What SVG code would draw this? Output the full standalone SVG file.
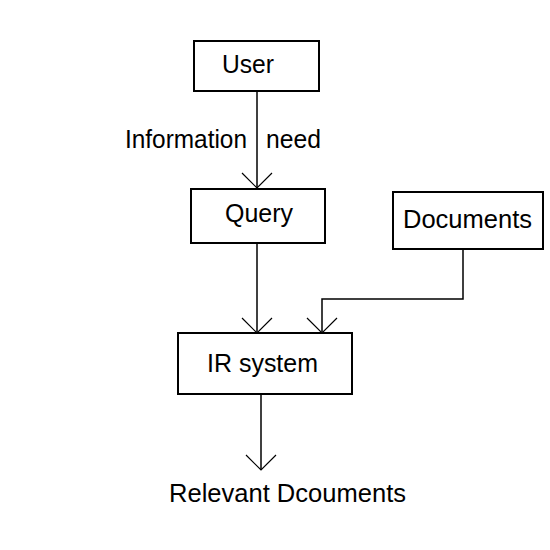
<svg xmlns="http://www.w3.org/2000/svg" width="550" height="550" viewBox="0 0 550 550">
<defs>
<style>
.box{fill:#fff;stroke:#000;stroke-width:2}
.lbl{font-family:"Liberation Sans",Arial,sans-serif;font-size:25px;fill:#000}
.con{fill:none;stroke:#000;stroke-width:1.5}
</style>
<marker id="v" viewBox="-17 -17 20 34" markerWidth="20" markerHeight="34" refX="0" refY="0" markerUnits="userSpaceOnUse" orient="auto">
<path d="M-15,-15 L0,0 L-15,15" fill="none" stroke="#000" stroke-width="1.2"/>
</marker>
</defs>
<rect width="550" height="550" fill="#fff"/>
<g id="connectors">
<path class="con" d="M257,91 V188" marker-end="url(#v)"/>
<path class="con" d="M257,243 V333" marker-end="url(#v)"/>
<path class="con" d="M463,249 V299 H322 V333" marker-end="url(#v)"/>
<path class="con" d="M261,394 V470" marker-end="url(#v)"/>
<text class="lbl"><tspan x="125" y="148" textLength="122" lengthAdjust="spacingAndGlyphs">Information</tspan><tspan x="266" y="148" textLength="55" lengthAdjust="spacingAndGlyphs">need</tspan></text>
</g>
<g id="user">
<rect class="box" x="194" y="41" width="125" height="50"/>
<text class="lbl" x="222" y="73" textLength="52" lengthAdjust="spacingAndGlyphs">User</text>
</g>
<g id="query">
<rect class="box" x="191" y="189" width="134" height="54"/>
<text class="lbl" x="225" y="222" textLength="68" lengthAdjust="spacingAndGlyphs">Query</text>
</g>
<g id="documents">
<rect class="box" x="393" y="192" width="150" height="57"/>
<text class="lbl" x="403" y="228" textLength="129" lengthAdjust="spacingAndGlyphs">Documents</text>
</g>
<g id="ir-system">
<rect class="box" x="178" y="333" width="174" height="61"/>
<text class="lbl" x="207" y="372" textLength="111" lengthAdjust="spacingAndGlyphs">IR system</text>
</g>
<g id="relevant">
<text class="lbl" x="169" y="502" textLength="237" lengthAdjust="spacingAndGlyphs">Relevant Dcouments</text>
</g>
</svg>
